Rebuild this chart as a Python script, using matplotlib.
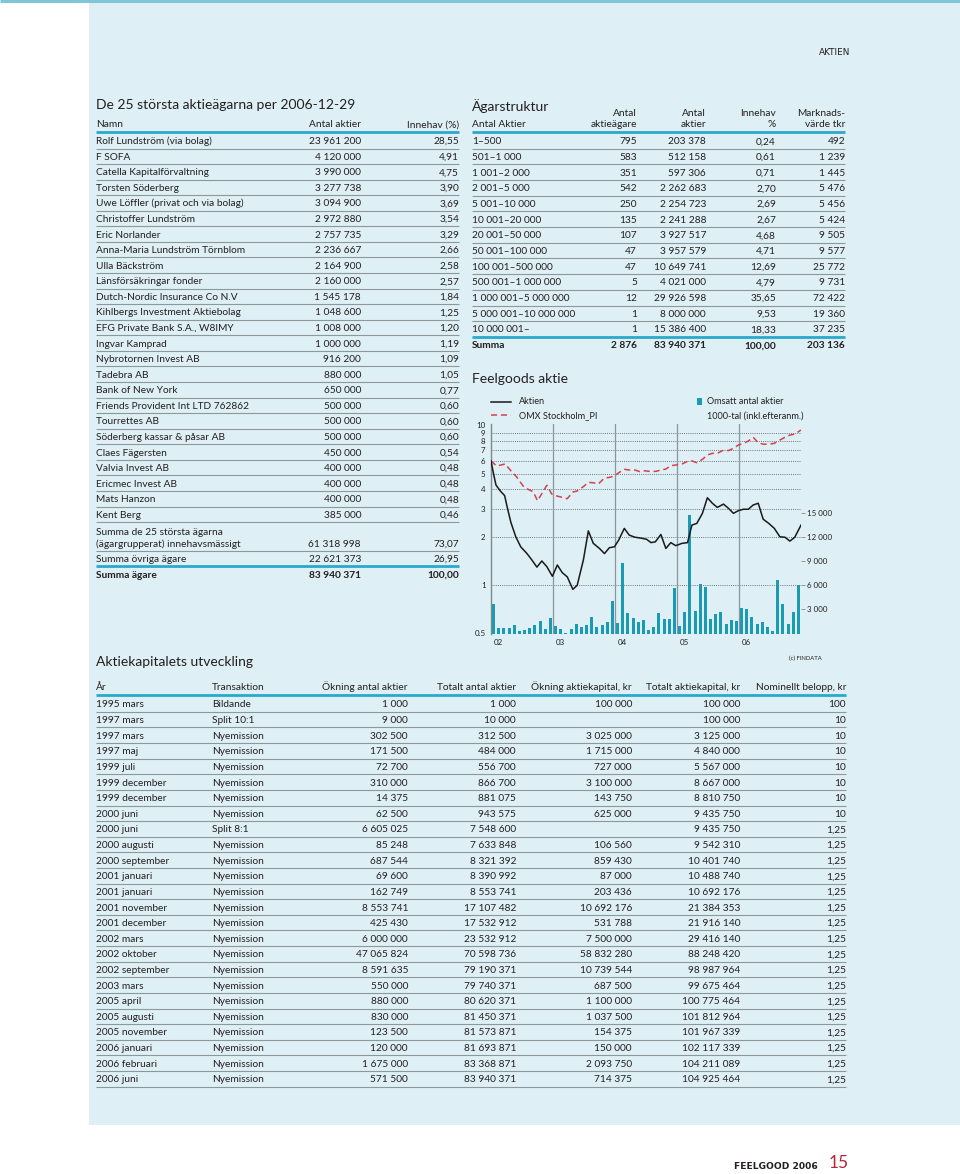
import numpy as np
import matplotlib.pyplot as plt
import matplotlib.transforms as mtransforms
from matplotlib.patches import Rectangle

plt.rcParams['font.family'] = 'Lato'

# ---- De 25 största aktieägarna ----
owner_names = [
    "Rolf Lundström (via bolag)", "F SOFA", "Catella Kapitalförvaltning",
    "Torsten Söderberg", "Uwe Löffler (privat och via bolag)",
    "Christoffer Lundström", "Eric Norlander", "Anna-Maria Lundström Törnblom",
    "Ulla Bäckström", "Länsförsäkringar fonder", "Dutch-Nordic Insurance Co N.V",
    "Kihlbergs Investment Aktiebolag", "EFG Private Bank S.A., W8IMY",
    "Ingvar Kamprad", "Nybrotornen Invest AB", "Tadebra AB", "Bank of New York",
    "Friends Provident Int LTD 762862", "Tourrettes AB",
    "Söderberg kassar & påsar AB", "Claes Fägersten", "Valvia Invest AB",
    "Ericmec Invest AB", "Mats Hanzon", "Kent Berg",
]
owner_shares = [23961200, 4120000, 3990000, 3277738, 3094900, 2972880, 2757735,
                2236667, 2164900, 2160000, 1545178, 1048600, 1008000, 1000000,
                916200, 880000, 650000, 500000, 500000, 500000, 450000, 400000,
                400000, 400000, 385000]
owner_pct = [28.55, 4.91, 4.75, 3.90, 3.69, 3.54, 3.29, 2.66, 2.58, 2.57, 1.84,
             1.25, 1.20, 1.19, 1.09, 1.05, 0.77, 0.60, 0.60, 0.60, 0.54, 0.48,
             0.48, 0.48, 0.46]
top25_shares, top25_pct = 61318998, 73.07
other_shares, other_pct = 22621373, 26.95
all_shares, all_pct = 83940371, 100.00

# ---- Ägarstruktur ----
size_classes = ["1–500", "501–1 000", "1 001–2 000", "2 001–5 000",
                "5 001–10 000", "10 001–20 000", "20 001–50 000",
                "50 001–100 000", "100 001–500 000", "500 001–1 000 000",
                "1 000 001–5 000 000", "5 000 001–10 000 000", "10 000 001–"]
class_owners = [795, 583, 351, 542, 250, 135, 107, 47, 47, 5, 12, 1, 1]
class_shares = [203378, 512158, 597306, 2262683, 2254723, 2241288, 3927517,
                3957579, 10649741, 4021000, 29926598, 8000000, 15386400]
class_pct = [0.24, 0.61, 0.71, 2.70, 2.69, 2.67, 4.68, 4.71, 12.69, 4.79,
             35.65, 9.53, 18.33]
class_value = [492, 1239, 1445, 5476, 5456, 5424, 9505, 9577, 25772, 9731,
               72422, 19360, 37235]
class_sum = (2876, 83940371, 100.00, 203136)

# ---- Aktiekapitalets utveckling ----
cap_dates = ["1995 mars", "1997 mars", "1997 mars", "1997 maj", "1999 juli",
             "1999 december", "1999 december", "2000 juni", "2000 juni",
             "2000 augusti", "2000 september", "2001 januari", "2001 januari",
             "2001 november", "2001 december", "2002 mars", "2002 oktober",
             "2002 september", "2003 mars", "2005 april", "2005 augusti",
             "2005 november", "2006 januari", "2006 februari", "2006 juni"]
cap_trans = ["Bildande", "Split 10:1"] + ["Nyemission"] * 6 + ["Split 8:1"] + ["Nyemission"] * 16
cap_new_shares = [1000, 9000, 302500, 171500, 72700, 310000, 14375, 62500,
                  6605025, 85248, 687544, 69600, 162749, 8553741, 425430,
                  6000000, 47065824, 8591635, 550000, 880000, 830000, 123500,
                  120000, 1675000, 571500]
cap_total_shares = [1000, 10000, 312500, 484000, 556700, 866700, 881075, 943575,
                    7548600, 7633848, 8321392, 8390992, 8553741, 17107482,
                    17532912, 23532912, 70598736, 79190371, 79740371, 80620371,
                    81450371, 81573871, 81693871, 83368871, 83940371]
cap_new_capital = [100000, None, 3025000, 1715000, 727000, 3100000, 143750,
                   625000, None, 106560, 859430, 87000, 203436, 10692176,
                   531788, 7500000, 58832280, 10739544, 687500, 1100000,
                   1037500, 154375, 150000, 2093750, 714375]
cap_total_capital = [100000, 100000, 3125000, 4840000, 5567000, 8667000,
                     8810750, 9435750, 9435750, 9542310, 10401740, 10488740,
                     10692176, 21384353, 21916140, 29416140, 88248420,
                     98987964, 99675464, 100775464, 101812964, 101967339,
                     102117339, 104211089, 104925464]
cap_nominal = [100] + [10] * 7 + [1.25] * 17

# ---- Feelgoods aktie (chart) ----
stock_t = [2002.00, 2002.04, 2002.08, 2002.15, 2002.22, 2002.26, 2002.32,
           2002.40, 2002.48, 2002.58, 2002.66, 2002.74, 2002.82, 2002.90,
           2002.99, 2003.07, 2003.15, 2003.23, 2003.32, 2003.39, 2003.49,
           2003.57, 2003.65, 2003.75, 2003.83, 2003.91, 2003.99, 2004.06,
           2004.15, 2004.23, 2004.32, 2004.43, 2004.51, 2004.58, 2004.65,
           2004.74, 2004.82, 2004.90, 2004.98, 2005.08, 2005.17, 2005.24,
           2005.32, 2005.41, 2005.49, 2005.57, 2005.65, 2005.75, 2005.83,
           2005.91, 2005.99, 2006.07, 2006.15, 2006.23, 2006.31, 2006.39,
           2006.48, 2006.57, 2006.66, 2006.74, 2006.82, 2006.90, 2007.00]
stock_v = [6.0, 5.0, 4.24, 3.89, 3.64, 3.1, 2.48, 2.01, 1.74, 1.58, 1.44, 1.30,
           1.42, 1.31, 1.14, 1.34, 1.20, 1.13, 0.944, 1.0, 1.44, 2.19, 1.83,
           1.70, 1.58, 1.72, 1.74, 1.92, 2.27, 2.06, 2.0, 1.97, 1.94, 1.85,
           1.87, 2.08, 1.70, 1.85, 1.77, 1.83, 1.85, 2.38, 2.44, 2.82, 3.53,
           3.26, 3.07, 3.22, 3.03, 2.82, 2.93, 2.99, 2.99, 3.18, 3.26, 2.59,
           2.44, 2.27, 2.01, 2.0, 1.89, 2.0, 2.38]
omx_t = [2002.00, 2002.09, 2002.23, 2002.31, 2002.41, 2002.52, 2002.60,
         2002.68, 2002.75, 2002.83, 2002.90, 2002.98, 2003.07, 2003.15,
         2003.23, 2003.32, 2003.39, 2003.49, 2003.57, 2003.65, 2003.73,
         2003.83, 2003.91, 2003.99, 2004.06, 2004.15, 2004.23, 2004.32,
         2004.40, 2004.48, 2004.56, 2004.66, 2004.74, 2004.82, 2004.90,
         2004.98, 2005.08, 2005.16, 2005.24, 2005.32, 2005.41, 2005.49,
         2005.57, 2005.65, 2005.75, 2005.83, 2005.91, 2005.99, 2006.07,
         2006.15, 2006.23, 2006.31, 2006.39, 2006.48, 2006.57, 2006.66,
         2006.74, 2006.82, 2006.90, 2007.00]
omx_v = [6.0, 5.57, 5.74, 5.26, 4.78, 4.17, 3.98, 3.85, 3.38, 3.8, 4.22, 3.72,
         3.61, 3.55, 3.48, 3.83, 3.89, 4.14, 4.4, 4.38, 4.3, 4.68, 4.73, 4.82,
         5.06, 5.31, 5.26, 5.26, 5.14, 5.2, 5.16, 5.16, 5.26, 5.33, 5.6, 5.65,
         5.74, 5.93, 6.0, 5.84, 6.13, 6.53, 6.69, 6.69, 7.0, 6.96, 7.18, 7.54,
         7.72, 7.98, 8.42, 7.78, 7.63, 7.63, 7.72, 8.1, 8.42, 8.7, 8.82, 9.35]
# omsatt antal aktier per månad, 1000-tal
volume = [3700, 670, 670, 670, 1100, 330, 450, 670, 1000, 1600, 550, 1900,
          900, 550, 120, 550, 1200, 800, 1100, 2100, 800, 1100, 1400, 4000,
          1300, 8800, 2500, 1900, 1400, 1700, 450, 750, 2500, 1800, 1750, 5700,
          900, 2700, 14750, 2800, 6100, 5800, 1800, 2400, 2700, 1200, 1700, 1600,
          3200, 3000, 2100, 1200, 1400, 800, 300, 6700, 3700, 1200, 2700, 6000]
years = [2002, 2003, 2004, 2005, 2006]
price_ticks = [0.5, 1, 2, 3, 4, 5, 6, 7, 8, 9, 10]
price_grid = [1, 2, 3, 4, 5, 6, 7, 8, 9]
volume_ticks = [3000, 6000, 9000, 12000, 15000]

INK = '#231f20'
RULE = '#8e979a'
BLUE = '#2aa9cc'
PANEL = '#deeff5'
BAR = '#1a9ab3'
BODY = 7.3
HEAD = 10


def n(v):
    return f"{v:,}".replace(",", " ")


def d(v):
    if float(v).is_integer():
        return str(int(v))
    return f"{v:.2f}".replace(".", ",")


fig = plt.figure(figsize=(9.6, 11.74), dpi=100)
page = fig.add_axes([0, 0, 1, 1])
page.set_xlim(0, 960)
page.set_ylim(1174, 0)
page.axis('off')

page.add_patch(Rectangle((89, 3), 871, 1122, color=PANEL, lw=0))
page.plot([0, 960], [1.2, 1.2], color='#7fc7d6', lw=2.2, solid_capstyle='butt')


def txt(x, y, s, ha='left', size=BODY, **kw):
    # y is the visual middle of the (last) line; the baseline sits below it
    page.text(x, y + 0.34 * size * 100 / 72, s, ha=ha, va='baseline',
              fontsize=size, color=kw.pop('color', INK), **kw)


def rule(x0, x1, y, color=RULE, lw=0.8):
    page.plot([x0, x1], [y, y], color=color, lw=lw, solid_capstyle='butt')


txt(850, 52, "AKTIEN", ha='right', size=6.4, family='DejaVu Sans')

# ---- table 1 ----
L1, C1a, C1b = 96, 361, 459
txt(L1, 104, "De 25 största aktieägarna per 2006-12-29", size=HEAD)
txt(L1, 124, "Namn")
txt(C1a, 124, "Antal aktier", ha='right')
txt(C1b, 124, "Innehav (%)", ha='right')
rule(L1, C1b, 132, BLUE, 2.0)
y0, dy = 140.7, 15.57
for i, (nm, sh, pc) in enumerate(zip(owner_names, owner_shares, owner_pct)):
    y = y0 + i * dy
    txt(L1, y, nm)
    txt(C1a, y, n(sh), ha='right')
    txt(C1b, y, d(pc), ha='right')
    rule(L1, C1b, y + 7.8)
txt(L1, 543.3, "Summa de 25 största ägarna\n(ägargrupperat) innehavsmässigt", linespacing=1.3)
txt(C1a, 543.3, n(top25_shares), ha='right')
txt(C1b, 543.3, d(top25_pct), ha='right')
rule(L1, C1b, 551)
txt(L1, 558.3, "Summa övriga ägare")
txt(C1a, 558.3, n(other_shares), ha='right')
txt(C1b, 558.3, d(other_pct), ha='right')
rule(L1, C1b, 565.5, BLUE, 2.0)
txt(L1, 574.5, "Summa ägare", weight='bold')
txt(C1a, 574.5, n(all_shares), ha='right', weight='bold')
txt(C1b, 574.5, f"{all_pct:.2f}".replace(".", ","), ha='right', weight='bold')

# ---- table 2 ----
L2 = 472
cols2 = [637, 706, 776, 845]
txt(L2, 106, "Ägarstruktur", size=HEAD)
txt(L2, 123.3, "Antal Aktier")
for x, (a, b) in zip(cols2, [("Antal", "aktieägare"), ("Antal", "aktier"),
                             ("Innehav", "%"), ("Marknads-", "värde tkr")]):
    txt(x, 112.3, a, ha='right')
    txt(x, 123.3, b, ha='right')
rule(L2, cols2[-1], 132.3, BLUE, 2.0)
y0, dy = 141, 15.67
for i in range(len(size_classes)):
    y = y0 + i * dy
    txt(L2, y, size_classes[i])
    vals = [n(class_owners[i]), n(class_shares[i]), d(class_pct[i]), n(class_value[i])]
    for x, v in zip(cols2, vals):
        txt(x, y, v, ha='right')
    if i < len(size_classes) - 1:
        rule(L2, cols2[-1], y + 7.8)
rule(L2, cols2[-1], 336.7, BLUE, 2.0)
txt(L2, 345, "Summa", weight='bold')
sums = [n(class_sum[0]), n(class_sum[1]), f"{class_sum[2]:.2f}".replace(".", ","), n(class_sum[3])]
for x, v in zip(cols2, sums):
    txt(x, 345, v, ha='right', weight='bold')

# ---- chart ----
txt(L2, 378, "Feelgoods aktie", size=HEAD)
page.plot([491, 511], [401.5, 401.5], color='#1a1a1a', lw=1.1)
page.plot([491, 511], [415, 415], color='#d4424e', lw=1.1, dashes=(4, 2.5))
txt(519, 401, "Aktien", size=6.6)
txt(519, 415, "OMX Stockholm_PI", size=6.6)
page.add_patch(Rectangle((697, 397.5), 4.5, 7.5, color=BAR, lw=0))
txt(707, 401, "Omsatt antal aktier", size=6.6)
txt(707, 415, "1000-tal (inkl.efteranm.)", size=6.6)
txt(822, 658, "(c) FINDATA", ha='right', size=4.2)

ax_l, ax_r, ax_t, ax_b = 491, 801, 424, 633.5
ax = fig.add_axes([ax_l / 960, 1 - ax_b / 1174, (ax_r - ax_l) / 960, (ax_b - ax_t) / 1174])
ax2 = ax.twinx()
ax.set_zorder(ax2.get_zorder() + 1)
ax.patch.set_visible(False)
ax2.patch.set_visible(False)

month_x = years[0] + (np.arange(len(volume)) + 0.5) / 12
ax2.bar(month_x, volume, width=0.6 / 12, color=BAR, lw=0)
ax2.set_ylim(0, 26000)
ax2.set_yticks(volume_ticks)
ax2.set_yticklabels([n(v) for v in volume_ticks])
ax2.tick_params(axis='y', length=3, width=0.7, color=RULE, pad=1.5,
                labelsize=5.7, labelcolor=INK)

ax.set_yscale('log')
ax.set_ylim(0.5, 10.2)
ax.set_xlim(2002, 2007)
for g in price_grid:
    ax.axhline(g, color='#6d787c', lw=0.7, ls=(0, (1, 1.2)), zorder=0)
for yr in years[1:]:
    ax.axvline(yr, color='#8a979c', lw=0.9, zorder=0)
ax.plot(omx_t, omx_v, color='#d4424e', lw=1.1, dashes=(4, 2.5), zorder=3)
ax.plot(stock_t, stock_v, color='#1a1a1a', lw=1.1, zorder=4)

ax.set_yticks(price_ticks)
ax.set_yticklabels([str(v) for v in price_ticks])
ax.yaxis.set_minor_locator(plt.NullLocator())
ax.set_xticks(years)
ax.set_xticklabels([f"{y % 100:02d}" for y in years])
ax.tick_params(axis='both', length=0, labelsize=5.7, labelcolor=INK)
ax.tick_params(axis='y', pad=4)
ax.tick_params(axis='x', pad=4)
offset = mtransforms.ScaledTranslation(0.025, 0, fig.dpi_scale_trans)
for lab in ax.get_xticklabels():
    lab.set_horizontalalignment('left')
    lab.set_transform(lab.get_transform() + offset)
for a in (ax, ax2):
    for s in ('top', 'right', 'bottom'):
        a.spines[s].set_visible(False)
ax2.spines['left'].set_visible(False)
ax.spines['left'].set_color('#7d898d')
ax.spines['left'].set_linewidth(1.0)

# ---- table 3 ----
L3 = 96
cols3 = [408, 516, 632, 740, 846]
txt(L3, 661, "Aktiekapitalets utveckling", size=HEAD)
txt(L3, 687, "År")
txt(212, 687, "Transaktion")
for x, h in zip(cols3, ["Ökning antal aktier", "Totalt antal aktier",
                        "Ökning aktiekapital, kr", "Totalt aktiekapital, kr",
                        "Nominellt belopp, kr"]):
    txt(x, 687, h, ha='right')
rule(L3, cols3[-1], 695, BLUE, 2.0)
y0, dy = 704, 15.62
for i in range(len(cap_dates)):
    y = y0 + i * dy
    txt(L3, y, cap_dates[i])
    txt(212, y, cap_trans[i])
    vals = [n(cap_new_shares[i]), n(cap_total_shares[i]),
            n(cap_new_capital[i]) if cap_new_capital[i] is not None else "",
            n(cap_total_capital[i]), d(cap_nominal[i])]
    for x, v in zip(cols3, vals):
        txt(x, y, v, ha='right')
    rule(L3, cols3[-1], y + 7.8)

# ---- footer ----
txt(818, 1165.5, "FEELGOOD 2006", ha='right', size=6.6, weight='bold',
    family='DejaVu Sans')
txt(849, 1162.5, "15", ha='right', size=12.5, color='#b3263c')

fig.savefig("out.png", dpi=100)
